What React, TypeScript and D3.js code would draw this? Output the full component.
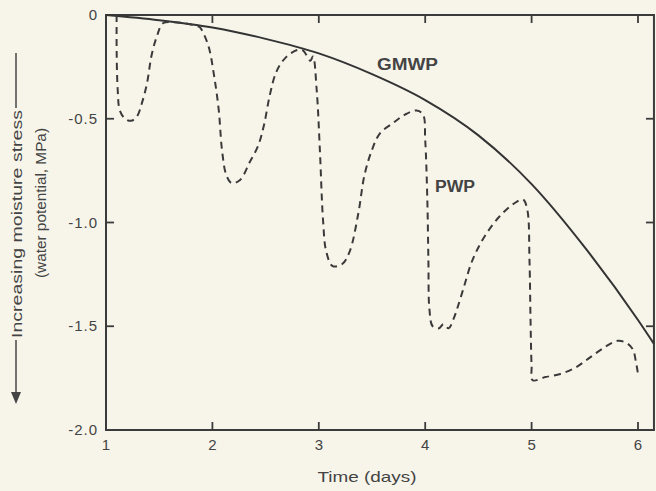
import React, { useEffect } from 'react';
import * as d3 from 'd3';

// Time (days) vs water potential (MPa)
const gmwpDays = [1.0, 1.5, 2.0, 2.5, 3.0, 3.5, 4.0, 4.5, 5.0, 5.5, 6.0, 6.15];
const gmwpValues = [0, -0.025, -0.06, -0.115, -0.185, -0.285, -0.41, -0.58, -0.815, -1.12, -1.47, -1.585];

const pwpDays = [
  1.1, 1.1, 1.11, 1.13, 1.18, 1.235, 1.29, 1.34, 1.385, 1.43, 1.48, 1.535, 1.65, 1.79, 1.855,
  1.88, 1.96, 2.015, 2.06, 2.09, 2.13, 2.18, 2.26, 2.35, 2.43, 2.485, 2.54, 2.6, 2.68, 2.79, 2.85,
  2.92, 2.945, 2.98, 3.01, 3.04, 3.07, 3.13, 3.22, 3.29, 3.37, 3.43, 3.5, 3.575, 3.7, 3.81, 3.92,
  3.98, 4.0, 4.02, 4.03, 4.04, 4.07, 4.13, 4.17, 4.22, 4.27, 4.31, 4.37, 4.43, 4.49, 4.58, 4.7, 4.83,
  4.92, 4.96, 4.98, 4.99, 5.0, 5.01, 5.13, 5.27, 5.41, 5.55, 5.69, 5.81, 5.89, 5.95, 5.98, 6.0,
];
const pwpValues = [
  0, -0.17, -0.36, -0.46, -0.5, -0.51, -0.49, -0.42, -0.33, -0.19, -0.1, -0.04, -0.035, -0.045, -0.053,
  -0.058, -0.145, -0.29, -0.46, -0.65, -0.77, -0.81, -0.795, -0.71, -0.63, -0.53, -0.385, -0.275, -0.21, -0.17, -0.17,
  -0.22, -0.2, -0.36, -0.65, -0.99, -1.14, -1.21, -1.2, -1.14, -0.96, -0.77, -0.65, -0.57, -0.52, -0.48, -0.46,
  -0.48, -0.6, -0.89, -1.18, -1.42, -1.5, -1.51, -1.49, -1.51, -1.46, -1.4, -1.3, -1.2, -1.13, -1.05, -0.97, -0.91,
  -0.89, -0.94, -1.18, -1.47, -1.69, -1.76, -1.745, -1.73, -1.7, -1.65, -1.6, -1.57, -1.58, -1.61, -1.67, -1.73,
];

const xTicks = [1, 2, 3, 4, 5, 6];
const yTicks = [0, -0.5, -1.0, -1.5, -2.0];
const yTickLabels = ['0', '-0.5', '-1.0', '-1.5', '-2.0'];

const W = 656;
const H = 491;
const ink = '#3b3b3b';
const font = 'Liberation Sans, Arial, sans-serif';

export default function App() {
  useEffect(() => {
    document.body.style.margin = '0';
  }, []);

  // frame: left 106, right 654, top 15, bottom 430
  const x = d3.scaleLinear().domain([1, 6]).range([106, 638]);
  const y = d3.scaleLinear().domain([0, -2]).range([15, 430]);
  const x0 = x(1);
  const x1 = x(6.15);
  const y0 = y(0);
  const y1 = y(-2);

  const gmwpLine = d3
    .line<[number, number]>()
    .x((d) => x(d[0]))
    .y((d) => y(d[1]))
    .curve(d3.curveMonotoneX);

  const pwpLine = d3
    .line<[number, number]>()
    .x((d) => x(d[0]))
    .y((d) => y(d[1]))
    .curve(d3.curveCatmullRom.alpha(0.5));

  const gmwp = gmwpLine(gmwpDays.map((d, i) => [d, gmwpValues[i]]));
  const pwp = pwpLine(pwpDays.map((d, i) => [d, pwpValues[i]]));

  const tl = 8;

  return (
    <svg width={W} height={H} style={{ display: 'block', background: '#f7f5ea' }}>
      <rect width={W} height={H} fill="#f7f5ea" />

      {/* frame */}
      <rect x={x0} y={y0} width={x1 - x0} height={y1 - y0} fill="none" stroke={ink} strokeWidth={2} />

      {/* x ticks, inward top and bottom */}
      {xTicks.slice(1).map((t) => (
        <g key={'xt' + t}>
          <line x1={x(t)} x2={x(t)} y1={y0} y2={y0 + tl} stroke={ink} strokeWidth={1.8} />
          <line x1={x(t)} x2={x(t)} y1={y1} y2={y1 - tl} stroke={ink} strokeWidth={1.8} />
        </g>
      ))}
      {xTicks.map((t) => (
        <text key={'xl' + t} x={x(t)} y={y1 + 20} textAnchor="middle" fontFamily={font} fontSize={15} fill="#444">
          {t}
        </text>
      ))}

      {/* y ticks, inward left and right */}
      {yTicks.slice(1, 4).map((t) => (
        <g key={'yt' + t}>
          <line x1={x0} x2={x0 + tl} y1={y(t)} y2={y(t)} stroke={ink} strokeWidth={1.8} />
          <line x1={x1} x2={x1 - tl} y1={y(t)} y2={y(t)} stroke={ink} strokeWidth={1.8} />
        </g>
      ))}
      {yTicks.map((t, i) => (
        <text
          key={'yl' + t}
          x={x0 - 8}
          y={y(t) + 5}
          textAnchor="end"
          fontFamily={font}
          fontSize={15}
          letterSpacing={1}
          fill="#444"
        >
          {yTickLabels[i]}
        </text>
      ))}

      {/* curves */}
      <path d={gmwp ?? ''} fill="none" stroke="#333" strokeWidth={2} />
      <path d={pwp ?? ''} fill="none" stroke="#3a3a3a" strokeWidth={2} strokeDasharray="7,5" />

      <text x={377} y={70} fontFamily={font} fontSize={16} fontWeight="bold" fill="#444"
        textLength={61} lengthAdjust="spacingAndGlyphs">
        GMWP
      </text>
      <text x={435} y={192} fontFamily={font} fontSize={16} fontWeight="bold" fill="#444"
        textLength={40} lengthAdjust="spacingAndGlyphs">
        PWP
      </text>

      {/* x title */}
      <text x={367} y={482} textAnchor="middle" fontFamily={font} fontSize={15} fill="#444"
        textLength={99} lengthAdjust="spacingAndGlyphs">
        Time (days)
      </text>

      {/* y title with arrow */}
      <line x1={16} x2={16} y1={53} y2={108} stroke="#444" strokeWidth={1.5} />
      <line x1={16} x2={16} y1={340} y2={396} stroke="#444" strokeWidth={1.5} />
      <path d="M11,392 L21,392 L16,404 Z" fill="#444" />
      <text
        transform="translate(22,224) rotate(-90)"
        textAnchor="middle"
        fontFamily={font}
        fontSize={15}
        fill="#444"
        textLength={228}
        lengthAdjust="spacingAndGlyphs"
      >
        Increasing moisture stress
      </text>
      <text
        transform="translate(46,203) rotate(-90)"
        textAnchor="middle"
        fontFamily={font}
        fontSize={15}
        fill="#444"
        textLength={150}
        lengthAdjust="spacingAndGlyphs"
      >
        (water potential, MPa)
      </text>
    </svg>
  );
}
